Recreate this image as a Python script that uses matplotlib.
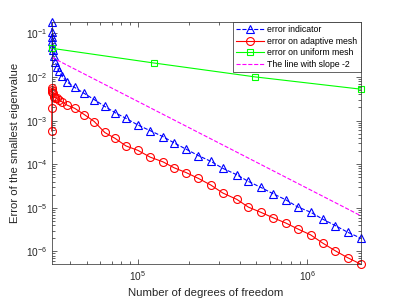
# -*- coding: utf-8 -*-
"""
Error of the smallest eigenvalue vs number of degrees of freedom.
"""

import matplotlib
matplotlib.use('Agg')
import matplotlib.pyplot as plt

# adaptive meshes
dofs_adapt = [31020, 31070, 31110, 31150, 31240, 31450, 31800, 32540, 33300,
              34120, 35640, 38140, 42400, 48250, 55250, 63710, 73480, 84960,
              100000, 118200, 140600, 163700, 192100, 227700, 269400, 316700,
              383500, 448800, 531800, 630200, 742900, 875500, 1.043e6,
              1.234e6, 1.460e6, 1.729e6, 2.059e6]
err_indicator = [0.1811, 0.1054, 0.0810, 0.0674, 0.0487, 0.0409, 0.0306,
                 0.0221, 0.01737, 0.01392, 0.01043, 0.00773, 0.00576, 0.0042,
                 0.00303, 0.00212, 1.515e-3, 1.129e-3, 7.93e-4, 5.88e-4,
                 4.29e-4, 3.08e-4, 2.22e-4, 1.571e-4, 1.165e-4, 8.06e-5,
                 5.73e-5, 4.03e-5, 2.94e-5, 2.088e-5, 1.539e-5, 1.054e-5,
                 7.98e-6, 5.49e-6, 3.92e-6, 2.76e-6, 2.03e-6]
err_adapt = [5.79e-4, 1.94e-3, 5.55e-3, 4.99e-3, 4.50e-3, 4.20e-3, 3.51e-3,
             3.37e-3, 3.23e-3, 2.95e-3, 2.70e-3, 2.27e-3, 1.91e-3, 1.378e-3,
             9.54e-4, 5.35e-4, 3.90e-4, 2.63e-4, 2.08e-4, 1.453e-4, 1.134e-4,
             8.28e-5, 6.46e-5, 4.72e-5, 3.33e-5, 2.19e-5, 1.563e-5, 1.038e-5,
             7.89e-6, 5.88e-6, 4.52e-6, 3.30e-6, 2.41e-6, 1.547e-6, 1.037e-6,
             7.18e-7, 5.16e-7]

# uniform meshes
dofs_unif = [31020, 123600, 491700, 2.059e6]
err_unif = [0.0455, 0.0210, 0.01005, 0.00527]

# reference line
dofs_ref = [31020, 2.059e6]
err_ref = [0.0283, 6.64e-6]

plt.rcParams['font.family'] = ['Liberation Sans', 'DejaVu Sans']
plt.rcParams['axes.unicode_minus'] = False

fig = plt.figure(figsize=(3.98, 2.99), dpi=100)
ax = fig.add_axes([0.13, 0.117, 0.776, 0.809])

ms = 6.3
ax.loglog(dofs_adapt, err_indicator, 'b--^', lw=0.8, ms=ms, mfc='none',
          mew=0.8, clip_on=False, label='error indicator')
ax.loglog(dofs_adapt, err_adapt, 'r-o', lw=0.8, ms=ms - 0.6, mfc='none',
          mew=0.8, clip_on=False, label='error on adaptive mesh')
ax.loglog(dofs_unif, err_unif, '-s', color=(0, 1, 0), lw=0.8, ms=ms - 1.3,
          mfc='none', mew=0.8, clip_on=False, label='error on uniform mesh')
ax.loglog(dofs_ref, err_ref, '--', color=(1, 0, 1), lw=0.8,
          label='The line with slope -2')

ax.set_xlim(dofs_adapt[0], dofs_adapt[-1])
ax.set_ylim(err_adapt[-1], err_indicator[0])

ax.tick_params(which='both', direction='in', top=True, right=True,
               labelsize=7.3, colors='0.15', width=0.5)
ax.tick_params(which='major', length=3.5)
ax.tick_params(which='minor', length=2)
for sp in ax.spines.values():
    sp.set_color('0.15')
    sp.set_linewidth(0.5)

ax.set_xlabel('Number of degrees of freedom', size=8.2, color='0.15')
ax.set_ylabel('Error of the smallest eigenvalue', size=8.2, color='0.15')

leg = ax.legend(loc='upper right', fontsize=6.3, fancybox=False,
                edgecolor='0.15', framealpha=1, borderaxespad=0,
                handlelength=3.2, handletextpad=0.4, borderpad=0.35,
                labelspacing=0.3)
leg.get_frame().set_linewidth(0.5)
leg.set_zorder(5)

plt.savefig('out.png', dpi=100)
